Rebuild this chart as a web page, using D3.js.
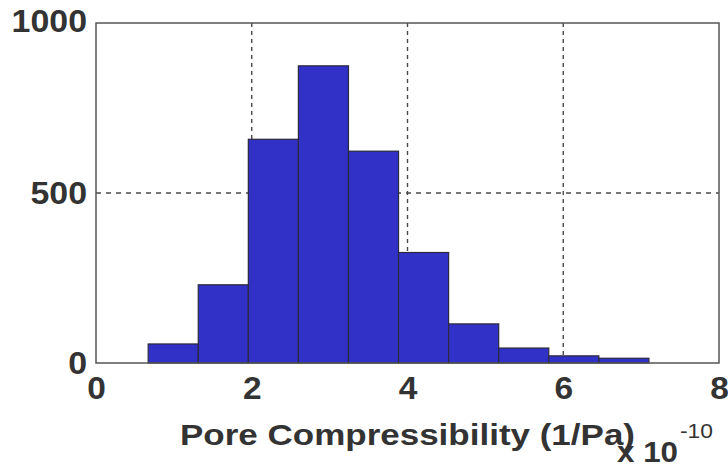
<!DOCTYPE html>
<html>
<head>
<meta charset="utf-8">
<script src="https://cdn.jsdelivr.net/npm/d3@7"></script>
<style>
  html, body { margin: 0; padding: 0; background: #fff; }
  svg { display: block; }
</style>
</head>
<body>
<svg id="chart" width="728" height="469"></svg>
<script>
// Data
const binStart = 0.67;          // left edge of first bin (x 1e-10)
const binEnd = 7.10;            // right edge of last bin
const counts = [56, 230, 658, 874, 623, 325, 115, 44, 21, 14];
const xTicks = [0, 2, 4, 6, 8];
const yTicks = [0, 500, 1000];
const xLabel = "Pore Compressibility (1/Pa)";

const svg = d3.select("#chart");
const plot = { left: 96, right: 719, top: 23, bottom: 363 };

const x = d3.scaleLinear().domain([0, 8]).range([plot.left, plot.right]);
const y = d3.scaleLinear().domain([0, 1000]).range([plot.bottom, plot.top]);

const binW = (binEnd - binStart) / counts.length;
const bins = counts.map((c, i) => ({ x0: binStart + i * binW, x1: binStart + (i + 1) * binW, c }));

// gridlines
const grid = svg.append("g");
grid.selectAll("line.vg").data(xTicks.filter(t => t > 0 && t < 8)).join("line")
  .attr("x1", d => x(d)).attr("x2", d => x(d))
  .attr("y1", plot.top).attr("y2", plot.bottom)
  .attr("stroke", "#4a4a4a").attr("stroke-width", 1.4).attr("stroke-dasharray", "4,4");
grid.selectAll("line.hg").data(yTicks.filter(t => t > 0 && t < 1000)).join("line")
  .attr("x1", plot.left).attr("x2", plot.right)
  .attr("y1", d => y(d)).attr("y2", d => y(d))
  .attr("stroke", "#4a4a4a").attr("stroke-width", 1.4).attr("stroke-dasharray", "5,5");

// bars
svg.append("g").selectAll("rect").data(bins).join("rect")
  .attr("x", d => x(d.x0))
  .attr("width", d => x(d.x1) - x(d.x0))
  .attr("y", d => y(d.c))
  .attr("height", d => y(0) - y(d.c))
  .attr("fill", "#3131c8")
  .attr("stroke", "#2a2a3a")
  .attr("stroke-width", 1.2);

// frame
svg.append("rect")
  .attr("x", plot.left).attr("y", plot.top)
  .attr("width", plot.right - plot.left).attr("height", plot.bottom - plot.top)
  .attr("fill", "none").attr("stroke", "#555").attr("stroke-width", 1.5);

const font = "'Liberation Sans', Arial, sans-serif";
function widen(sel, f) {
  sel.each(function () {
    const w = this.getComputedTextLength();
    d3.select(this).attr("textLength", w * f).attr("lengthAdjust", "spacingAndGlyphs");
  });
}

// axes (labels only, ticks hidden)
const xAxis = svg.append("g").attr("transform", `translate(0,${plot.bottom})`)
  .call(d3.axisBottom(x).tickValues(xTicks).tickSize(0).tickPadding(14).tickFormat(d3.format("d")));
xAxis.select(".domain").remove();
xAxis.selectAll("text").attr("font-family", font).attr("font-weight", "bold")
  .attr("font-size", 31).attr("fill", "#333");
widen(xAxis.selectAll("text"), 1.08);

const yAxis = svg.append("g").attr("transform", `translate(${plot.left},0)`)
  .call(d3.axisLeft(y).tickValues(yTicks).tickSize(0).tickPadding(9).tickFormat(d3.format("d")));
yAxis.select(".domain").remove();
yAxis.selectAll("text").attr("font-family", font).attr("font-weight", "bold")
  .attr("font-size", 32).attr("fill", "#333");
yAxis.selectAll(".tick").filter(d => d === 1000).select("text").attr("dy", "0.25em");
widen(yAxis.selectAll("text"), 1.06);

// x label
svg.append("text")
  .attr("x", 180).attr("y", 445)
  .attr("font-family", font).attr("font-weight", "bold").attr("font-size", 30)
  .attr("fill", "#333")
  .attr("textLength", 455).attr("lengthAdjust", "spacingAndGlyphs")
  .text(xLabel);

// exponent
svg.append("text").attr("x", 617).attr("y", 462)
  .attr("font-family", font).attr("font-weight", "bold").attr("fill", "#333")
  .attr("font-size", 29).attr("textLength", 61).attr("lengthAdjust", "spacingAndGlyphs")
  .text("x 10");
svg.append("text").attr("x", 680).attr("y", 438)
  .attr("font-family", font).attr("fill", "#333")
  .attr("font-size", 21).attr("textLength", 33).attr("lengthAdjust", "spacingAndGlyphs")
  .text("-10");
</script>
</body>
</html>
